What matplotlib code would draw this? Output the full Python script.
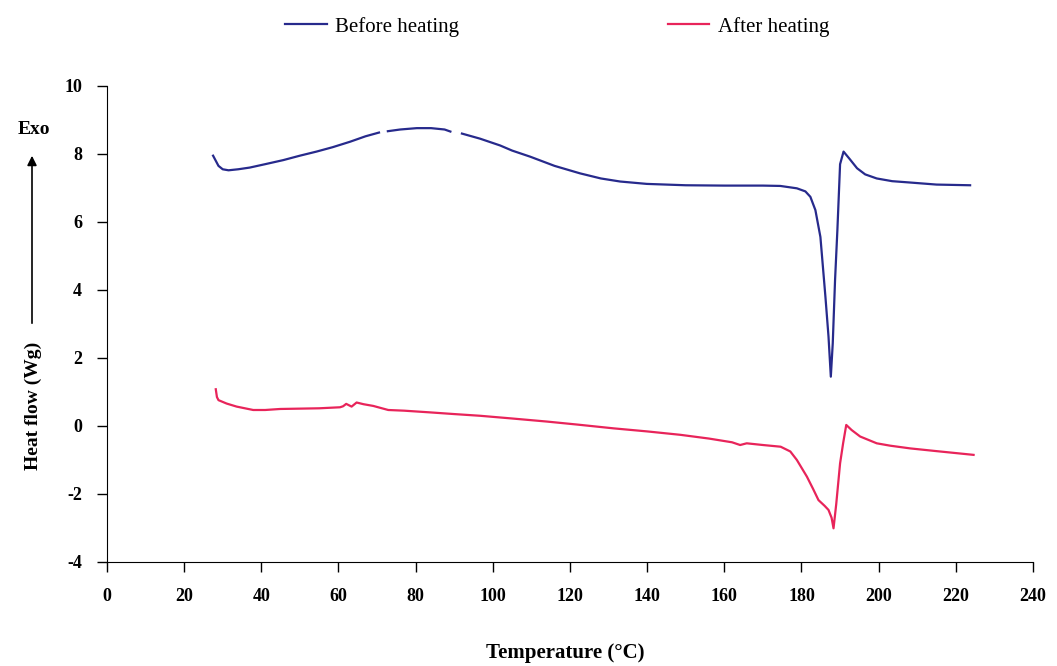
import numpy as np
import matplotlib
matplotlib.use("Agg")
import matplotlib.pyplot as plt

# DSC curves (temperature in C, heat flow in W/g)
nan = np.nan
before_T = [27.5, 28.2, 28.9, 30, 31.5, 34, 37, 41, 45.7, 50, 54.3, 58.5, 63, 67, 70.5, 71.5,
            72.8, 76, 80.3, 84, 87.5, 89, 90.5, 92, 96.7, 101.9, 105, 109.7, 116, 122.6, 128,
            133, 139.9, 150, 160, 170, 174.5, 178.8, 181, 182.3, 183.6, 184.9, 186.2, 187,
            187.6, 188.1, 188.7, 189.3, 190, 190.9, 192.5, 194.4, 196.5, 199.5, 203.5, 208.2,
            215, 223.7]
before_Y = [7.95, 7.8, 7.65, 7.55, 7.52, 7.55, 7.6, 7.7, 7.82, 7.95, 8.07, 8.2, 8.36, 8.52, 8.63, nan,
            8.67, 8.72, 8.76, 8.76, 8.72, 8.66, nan, 8.6, 8.45, 8.25, 8.1, 7.92, 7.65, 7.43, 7.28,
            7.19, 7.12, 7.08, 7.07, 7.07, 7.06, 6.99, 6.9, 6.74, 6.35, 5.56, 3.8, 2.63,
            1.45, 2.43, 4.3, 5.76, 7.7, 8.07, 7.85, 7.58, 7.4, 7.28, 7.2, 7.16,
            7.1, 7.08]

after_T = [28.2, 28.5, 28.9, 31, 33.6, 37.9, 41, 44.9, 50, 55, 60.4, 61.2, 62, 63.4, 64.7, 66.5,
           69, 72.9, 77, 83.7, 90, 96.7, 105, 114, 122, 131.3, 140, 148.6, 156, 162, 164.1,
           165.8, 170, 174.6, 177.1, 178.8, 181.4, 183, 184.4, 186, 187, 187.8, 188.3, 189,
           190, 190.8, 191.6, 193, 195.2, 199.5, 203, 208.2, 215, 224.6]
after_Y = [1.08, 0.85, 0.76, 0.66, 0.57, 0.47, 0.47, 0.5, 0.51, 0.52, 0.55, 0.58, 0.65, 0.57, 0.69, 0.64,
           0.59, 0.47, 0.45, 0.40, 0.35, 0.30, 0.22, 0.13, 0.04, -0.07, -0.16, -0.26, -0.37, -0.48, -0.56,
           -0.51, -0.56, -0.61, -0.75, -1.0, -1.49, -1.85, -2.18, -2.35, -2.47, -2.7, -3.01, -2.3,
           -1.1, -0.5, 0.03, -0.12, -0.31, -0.51, -0.58, -0.66, -0.74, -0.85]

x_ticks = list(range(0, 241, 20))
y_ticks = list(range(-4, 11, 2))

plt.rcParams['font.family'] = ['Liberation Serif', 'DejaVu Serif']
plt.rcParams['axes.unicode_minus'] = False

fig = plt.figure(figsize=(10.57, 6.66), dpi=100)
ax = fig.add_axes([0.1012, 0.1562, 0.8761, 0.7147])

ax.plot(before_T, before_Y, color='#272a8c', lw=1.6, label='Before heating')
ax.plot(after_T, after_Y, color='#e8245a', lw=1.6, label='After heating')

ax.set_xlim(0, 240)
ax.set_ylim(-4, 10)
ax.set_xticks(x_ticks)
ax.set_yticks(y_ticks)
ax.spines['top'].set_visible(False)
ax.spines['right'].set_visible(False)
ax.tick_params(direction='out', length=7, width=1)
ax.tick_params(axis='x', pad=12)
ax.tick_params(axis='y', pad=11)
for lab in ax.get_xticklabels() + ax.get_yticklabels():
    lab.set_fontweight('bold')
    lab.set_fontsize(13)

# axis titles placed in figure coordinates
fig.text(565 / 1057, 13 / 666, 'Temperature (°C)', ha='center', va='center',
         fontsize=15, fontweight='bold')
fig.text(33 / 1057, 1 - 406 / 666, 'Heat flow (Wg)', rotation=90, ha='center', va='center',
         fontsize=14, fontweight='bold')
fig.text(34 / 1057, 1 - 129 / 666, 'Exo', ha='center', va='center', fontsize=14, fontweight='bold')
ax.annotate('', xy=(32 / 1057, 1 - 153 / 666), xytext=(32 / 1057, 1 - 326 / 666),
            xycoords='figure fraction', textcoords='figure fraction',
            arrowprops=dict(arrowstyle='-|>', color='black', lw=1.2, mutation_scale=14))

fig.legend(loc='center', bbox_to_anchor=(0.527, 0.96), ncol=2, frameon=False, fontsize=15,
           handlelength=2.0, handletextpad=0.4, columnspacing=10)

fig.savefig('out.png', dpi=100, facecolor='white')
